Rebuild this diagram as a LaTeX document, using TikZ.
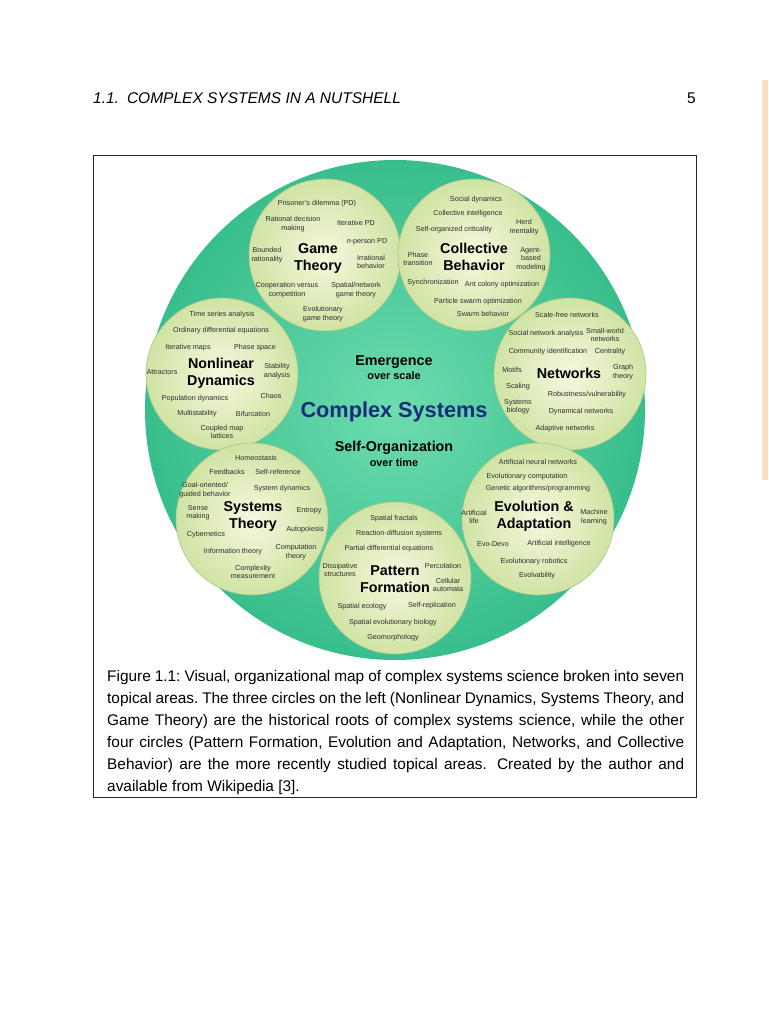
\documentclass[tikz,border=0pt]{standalone}
\usepackage{fontspec}
\setmainfont{Liberation Sans}
\definecolor{CoreIn}{RGB}{108,220,174}
\definecolor{CoreOut}{RGB}{56,190,140}
\definecolor{TopicIn}{RGB}{246,247,222}
\definecolor{TopicOut}{RGB}{208,228,164}
\definecolor{TopicRim}{RGB}{172,194,142}
\definecolor{LabelGray}{RGB}{45,45,45}
\definecolor{CSNavy}{RGB}{28,42,125}
\definecolor{EdgePeach}{RGB}{255,222,190}
\usetikzlibrary{positioning}

\begin{document}
\begin{tikzpicture}[x=1pt,y=-1pt,
  core/.style={circle,minimum size=500pt,inner sep=0pt,shading=radial,inner color=CoreIn,outer color=CoreOut},
  topic/.style={circle,minimum size=152pt,inner sep=0pt,draw=TopicRim,line width=0.6pt,shading=radial,inner color=TopicIn,outer color=TopicOut},
  lbl/.style={font=\fontsize{7.2}{8.4}\selectfont,align=center,inner sep=0pt,text=LabelGray},
  ttl/.style={font=\bfseries\fontsize{14.3}{17}\selectfont,align=center,inner sep=0pt},
  hub/.style={font=\bfseries\fontsize{14.3}{17}\selectfont,inner sep=0pt},
  hubsub/.style={font=\bfseries\fontsize{10.9}{13}\selectfont,inner sep=0pt}]
\useasboundingbox (0,0) rectangle (768,1024);
\fill[EdgePeach] (762,80) rectangle (768,480);
% page head
\node[anchor=base west,inner sep=0pt,font=\itshape\fontsize{15.5}{18}\selectfont] (head) at (93,104) {1.1.\hspace{8pt}COMPLEX SYSTEMS IN A NUTSHELL};
\node[anchor=base east,inner sep=0pt,font=\fontsize{15.5}{18}\selectfont] (pageno) at (696,104) {5};
\draw[line width=0.8pt,black!85] (93,155) rectangle (696,797);
% big disc and the seven topic circles
\node[core] (cs) at (395,410) {};
\node[topic] (game) at (325,255) {};
\node[topic] (coll) at (474,255) {};
\node[topic] (nonlin) at (222,374) {};
\node[topic] (netw) at (570,374) {};
\node[topic] (syst) at (252,519) {};
\node[topic] (evol) at (538,519) {};
\node[topic] (patt) at (395,578) {};
% middle
\node[hub] (emerg) at (394,362) {Emergence};
\node[hubsub] (overscale) at (394,376) {over scale};
\node[font=\bfseries\fontsize{21.7}{24}\selectfont,text=CSNavy,inner sep=0pt] (cstitle) at (394,412) {Complex Systems};
\node[hub] (selforg) at (394,448) {Self-Organization};
\node[hubsub] (overtime) at (394,463) {over time};
% Game Theory
\node[ttl] (gametitle) at (318,258) {Game\\Theory};
\foreach \px/\py/\txt [count=\i] in {317/204/{Prisoner's dilemma (PD)}, 293/224/{Rational decision\\making},
  356/223/{Iterative PD}, 367/242/{\emph{n}-person PD}, 267/255/{Bounded\\rationality}, 371/262/{Irrational\\behavior},
  287/290/{Cooperation versus\\competition}, 356/290/{Spatial/network\\game theory}, 323/314/{Evolutionary\\game theory}}
  \node[lbl] (gt\i) at (\px,\py) {\txt};
% Collective Behavior
\node[ttl] (colltitle) at (474,257) {Collective\\Behavior};
\foreach \px/\py/\txt [count=\i] in {476/200/{Social dynamics}, 468/214/{Collective intelligence},
  454/230/{Self-organized criticality}, 524/227/{Herd\\mentality}, 418/259/{Phase\\transition},
  531/259/{Agent-\\based\\modeling}, 433/283/{Synchronization}, 502/285/{Ant colony optimization},
  478/302/{Particle swarm optimization}, 483/314/{Swarm behavior}}
  \node[lbl] (cb\i) at (\px,\py) {\txt};
% Nonlinear Dynamics
\node[ttl] (nltitle) at (221,373) {Nonlinear\\Dynamics};
\foreach \px/\py/\txt [count=\i] in {222/315/{Time series analysis}, 221/331/{Ordinary differential equations},
  188/348/{Iterative maps}, 255/348/{Phase space}, 162/372/{Attractors}, 277/371/{Stability\\analysis},
  195/399/{Population dynamics}, 271/396/{Chaos}, 197/414/{Multistability}, 253/414/{Bifurcation},
  222/432/{Coupled map\\lattices}}
  \node[lbl] (nd\i) at (\px,\py) {\txt};
% Networks
\node[ttl] (nwtitle) at (569,373) {Networks};
\foreach \px/\py/\txt [count=\i] in {567/315/{Scale-free networks}, 546/334/{Social network analysis},
  605/335/{Small-world\\networks}, 548/352/{Community identification}, 610/352/{Centrality}, 512/370/{Motifs},
  623/372/{Graph\\theory}, 518/387/{Scaling}, 587/395/{Robustness/vulnerability}, 518/407/{Systems\\biology},
  581/412/{Dynamical networks}, 565/429/{Adaptive networks}}
  \node[lbl] (nw\i) at (\px,\py) {\txt};
% Systems Theory
\node[ttl] (sttitle) at (253,516) {Systems\\Theory};
\foreach \px/\py/\txt [count=\i] in {256/458/{Homeostasis}, 227/472/{Feedbacks}, 278/472/{Self-reference},
  205/490/{Goal-oriented/\\guided behavior}, 282/489/{System dynamics}, 198/513/{Sense\\making},
  309/511/{Entropy}, 305/530/{Autopoiesis}, 206/535/{Cybernetics}, 233/552/{Information theory},
  296/552/{Computation\\theory}, 253/572/{Complexity\\measurement}}
  \node[lbl] (st\i) at (\px,\py) {\txt};
% Evolution & Adaptation
\node[ttl] (eatitle) at (534,516) {Evolution \&\\Adaptation};
\foreach \px/\py/\txt [count=\i] in {538/462/{Artificial neural networks}, 527/477/{Evolutionary computation},
  538/489/{Genetic algorithms/programming}, 474/517/{Artificial\\life}, 594/517/{Machine\\learning},
  493/544/{Evo-Devo}, 559/544/{Artificial intelligence}, 534/562/{Evolutionary robotics}, 537/576/{Evolvability}}
  \node[lbl] (ea\i) at (\px,\py) {\txt};
% Pattern Formation
\node[ttl] (pftitle) at (395,579) {Pattern\\Formation};
\foreach \px/\py/\txt [count=\i] in {394/519/{Spatial fractals}, 399/534/{Reaction-diffusion systems},
  389/549/{Partial differential equations}, 340/570/{Dissipative\\structures}, 443/566/{Percolation},
  448/585/{Cellular\\automata}, 362/607/{Spatial ecology}, 432/606/{Self-replication},
  393/623/{Spatial evolutionary biology}, 393/638/{Geomorphology}}
  \node[lbl] (pf\i) at (\px,\py) {\txt};
% caption
\node[anchor=north west,inner sep=0pt,text width=577pt,align=justify,font=\frenchspacing\fontsize{15.4}{22}\selectfont] (caption) at (107,670)
  {Figure 1.1: Visual, organizational map of complex systems science broken into seven\linebreak
   topical areas. The three circles on the left (Nonlinear Dynamics, Systems Theory, and\linebreak
   Game Theory) are the historical roots of complex systems science, while the other\linebreak
   four circles (Pattern Formation, Evolution and Adaptation, Networks, and Collective\linebreak
   Behavior) are the more recently studied topical areas.\hspace{4pt} Created by the author and\linebreak
   available from Wikipedia [3].};
\end{tikzpicture}
\end{document}
